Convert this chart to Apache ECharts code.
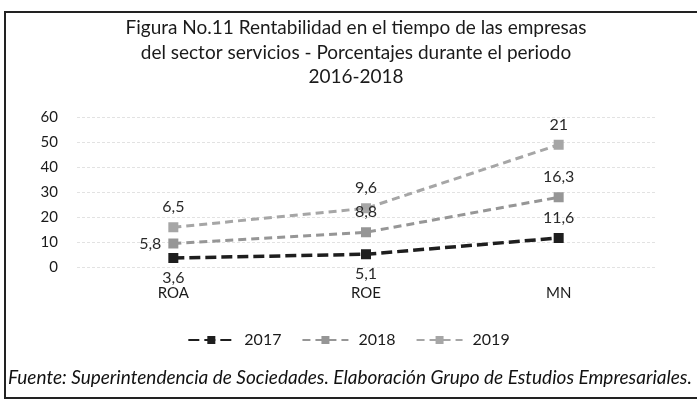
<!DOCTYPE html>
<html><head><meta charset="utf-8">
<script src="https://cdn.jsdelivr.net/npm/echarts@6/dist/echarts.min.js"></script>
<style>html,body{margin:0;padding:0;background:#fff}#c{width:697px;height:402px}</style>
</head><body><div id="c"></div>
<script>
const categories = ['ROA', 'ROE', 'MN'];
const years = ['2017', '2018', '2019'];
const v2017 = [3.6, 5.1, 11.6];
const v2018 = [5.8, 8.8, 16.3];
const v2019 = [6.5, 9.6, 21];
const yTicks = [0, 10, 20, 30, 40, 50, 60];

const colors = ['#1e1e1e', '#969696', '#a6a6a6'];
const widths = [3.5, 3, 3];
const dashes = [[11, 5], [8, 5], [8, 5]];
const labelPos = [
  ['bottom', 'bottom', 'top'],
  ['left', 'top', 'top'],
  ['top', 'top', 'top']
];
const fmt = v => String(v).replace('.', ',');

function mk(name, vals, idx) {
  return {
    name: name, type: 'line', stack: 'total',
    data: vals.map((v, i) => ({value: v, label: {position: labelPos[idx][i]}})),
    symbol: 'rect', symbolSize: 10,
    lineStyle: {color: colors[idx], width: widths[idx], type: dashes[idx]},
    itemStyle: {color: colors[idx]},
    label: {show: true, formatter: p => fmt(p.value), fontSize: 16, color: '#2a2a2a', distance: 7,
      fontFamily: 'Lato'},
    z: 10 - idx
  };
}

const chart = echarts.init(document.getElementById('c'));
chart.setOption({
  animation: false,
  title: {
    text: 'Figura No.11 Rentabilidad en el tiempo de las empresas\ndel sector servicios - Porcentajes durante el periodo\n2016-2018',
    left: 351, top: 11, textAlign: 'center',
    textStyle: {fontSize: 19, fontWeight: 'normal', color: '#1a1a1a', lineHeight: 24.5, fontFamily: 'Lato'}
  },
  grid: {left: 77, right: 42, top: 117, bottom: 135},
  xAxis: {
    type: 'category', data: categories,
    axisLine: {show: false}, axisTick: {show: false},
    axisLabel: {fontSize: 15, color: '#1a1a1a', margin: 19, fontFamily: 'Lato'}
  },
  yAxis: {
    type: 'value', min: 0, max: 60, interval: 10,
    axisLabel: {fontSize: 15, color: '#1a1a1a', margin: 19, fontFamily: 'Lato',
      formatter: v => yTicks.includes(v) ? String(v) : ''},
    splitLine: {lineStyle: {color: '#e2e2e2', type: [3, 2]}}
  },
  legend: {
    data: years, top: 327, left: 'center', itemWidth: 46, itemHeight: 10, itemGap: 20,
    textStyle: {fontSize: 16, color: '#1a1a1a', fontFamily: 'Lato', padding: [0, 0, 0, 5]}
  },
  graphic: [
    {type: 'polyline', shape: {points: [[697, 12], [5, 12], [5, 398], [697, 398]]},
      style: {stroke: '#222', lineWidth: 2, fill: null}},
    {type: 'text', left: 8, top: 368,
      style: {text: 'Fuente: Superintendencia de Sociedades. Elaboración Grupo de Estudios Empresariales.',
        font: 'italic 19px Lato', fill: '#111'}}
  ],
  series: [mk('2017', v2017, 0), mk('2018', v2018, 1), mk('2019', v2019, 2)]
});
</script></body></html>
